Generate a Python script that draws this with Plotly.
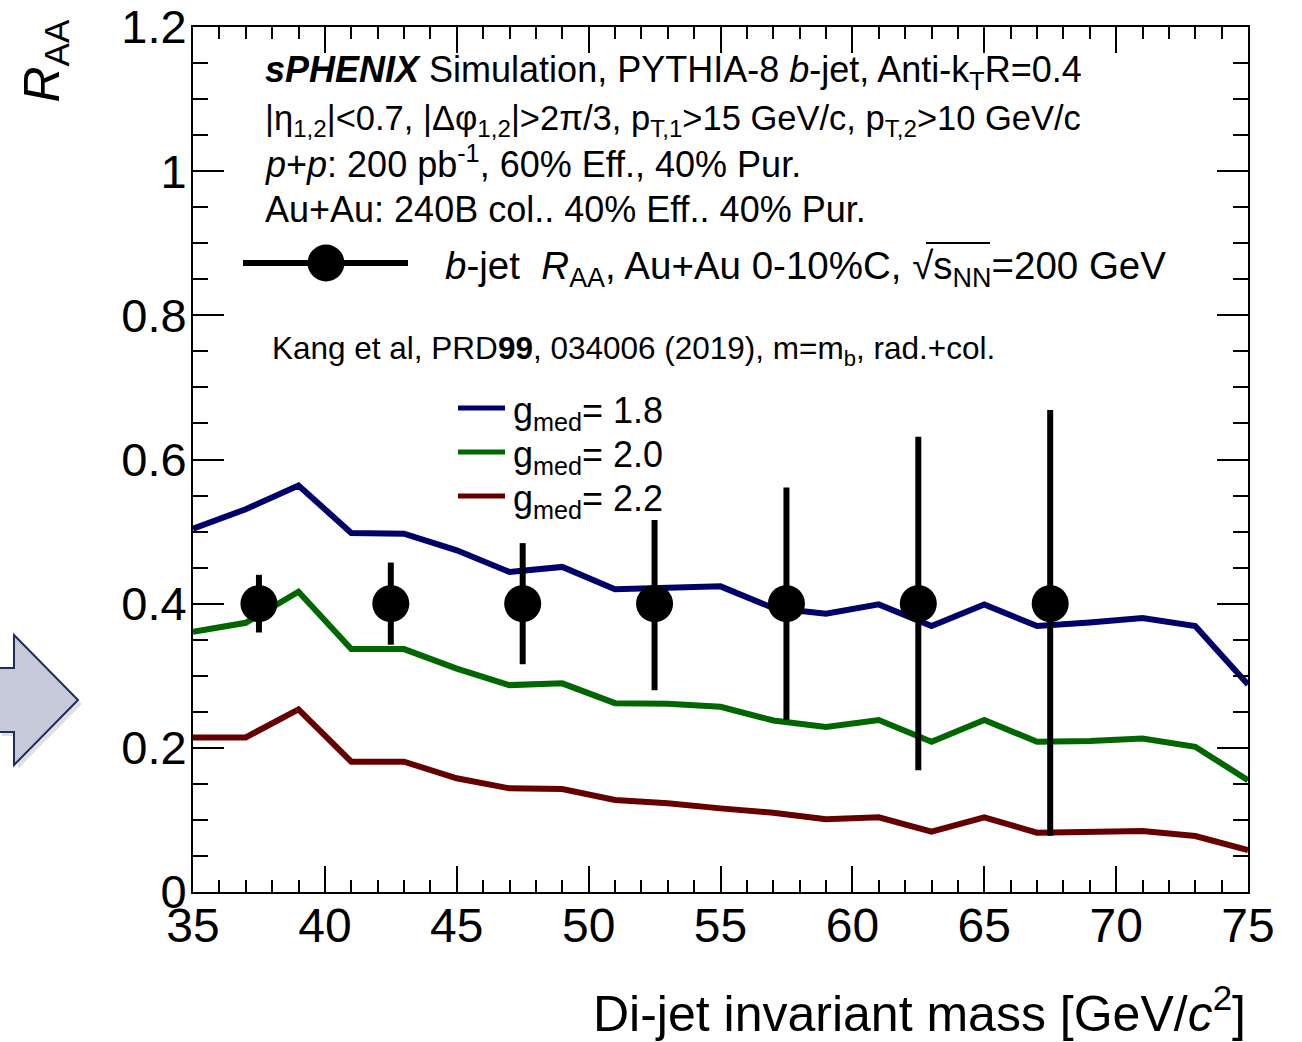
import plotly.graph_objects as go

# ---------------- data ----------------
mass_theory = [35, 37, 39, 41, 43, 45, 47, 49, 51, 53, 55, 57, 59, 61, 63, 65, 67, 69, 71, 73, 75]
raa_g18 = [0.504, 0.531, 0.564, 0.498, 0.497, 0.474, 0.444, 0.451, 0.420, 0.422, 0.424, 0.394,
           0.386, 0.399, 0.369, 0.399, 0.369, 0.374, 0.380, 0.369, 0.288]
raa_g20 = [0.361, 0.3735, 0.4165, 0.337, 0.337, 0.310, 0.287, 0.2895, 0.262, 0.261, 0.257, 0.238,
           0.229, 0.2385, 0.2085, 0.2385, 0.2085, 0.2095, 0.213, 0.2015, 0.155]
raa_g22 = [0.2145, 0.2145, 0.2534, 0.1807, 0.1807, 0.1577, 0.1438, 0.1429, 0.1276, 0.123, 0.116, 0.110,
           0.1008, 0.1036, 0.0836, 0.1036, 0.0823, 0.083, 0.0846, 0.0777, 0.058]

mass_data = [37.5, 42.5, 47.5, 52.5, 57.5, 62.5, 67.5]
raa_data = [0.4, 0.4, 0.4, 0.4, 0.4, 0.4, 0.4]
err_up = [0.040, 0.057, 0.084, 0.116, 0.161, 0.2315, 0.2685]
err_down = [0.040, 0.057, 0.084, 0.120, 0.161, 0.231, 0.322]

x_ticks = [35, 40, 45, 50, 55, 60, 65, 70, 75]
y_ticks = [0, 0.2, 0.4, 0.6, 0.8, 1.0, 1.2]
y_tick_labels = ["0", "0.2", "0.4", "0.6", "0.8", "1", "1.2"]

curve_labels = ["1.8", "2.0", "2.2"]
curve_colors = ["#00006b", "#006600", "#660000"]

# ---------------- layout helpers (pixel -> paper) ----------------
FIG_W, FIG_H = 1302, 1042
L, R, T, B = 193, 54, 27, 150
PW, PH = FIG_W - L - R, FIG_H - T - B


def px(x):
    return (x - L) / PW


def py(y):
    return (T + PH - y) / PH


FONT = "Liberation Sans"

fig = go.Figure()

for vals, col, lab in zip([raa_g18, raa_g20, raa_g22], curve_colors, curve_labels):
    fig.add_trace(go.Scatter(x=mass_theory, y=vals, mode="lines",
                             line=dict(color=col, width=6), name="g_med = " + lab,
                             showlegend=False))

fig.add_trace(go.Scatter(
    x=mass_data, y=raa_data, mode="markers",
    marker=dict(color="black", size=37),
    error_y=dict(type="data", symmetric=False, array=err_up, arrayminus=err_down,
                 color="black", thickness=6, width=0),
    showlegend=False, name="b-jet RAA"))

# arrow on the left (light-to-dark vertical shading approximated by stacked bands)
arrow_pts = [(-2, 668), (14, 668), (14, 635), (78, 700), (14, 765), (14, 732), (-2, 732)]
path = "M " + " L ".join(f"{px(a):.5f},{py(b):.5f}" for a, b in arrow_pts) + " Z"
shadow = "M " + " L ".join(f"{px(a + 4):.5f},{py(b + 4):.5f}" for a, b in arrow_pts) + " Z"
fig.add_shape(type="path", xref="paper", yref="paper", path=shadow,
              fillcolor="rgba(0,0,0,0.12)", line=dict(width=0), layer="below")
fig.add_shape(type="path", xref="paper", yref="paper", path=path,
              fillcolor="#c6cad8", line=dict(color="#1c2d5e", width=2))

# legend: data marker
fig.add_shape(type="line", xref="paper", yref="paper", x0=px(243), x1=px(408),
              y0=py(263), y1=py(263), line=dict(color="black", width=6))
fig.add_shape(type="circle", xref="paper", yref="paper", x0=px(326 - 18.5), x1=px(326 + 18.5),
              y0=py(263 + 18.5), y1=py(263 - 18.5), fillcolor="black", line=dict(width=0))

# legend: theory curves
for i, (col, lab) in enumerate(zip(curve_colors, curve_labels)):
    yy = 408 + 44 * i
    fig.add_shape(type="line", xref="paper", yref="paper", x0=px(458), x1=px(505),
                  y0=py(yy), y1=py(yy), line=dict(color=col, width=5))
    fig.add_annotation(text="g<sub>med</sub>= " + lab, x=px(511), y=py(yy + 5),
                       xref="paper", yref="paper",
                       xanchor="left", yanchor="middle", showarrow=False,
                       font=dict(size=36, color="black", family=FONT))

# overline for sqrt
fig.add_shape(type="line", xref="paper", yref="paper", x0=px(926), x1=px(990),
              y0=py(243), y1=py(243), line=dict(color="black", width=2))

text_lines = [
    ("<b><i>sPHENIX</i></b> Simulation, PYTHIA-8 <i>b</i>-jet, Anti-k<sub>T</sub>R=0.4", 263, 72, 36),
    ("|η<sub>1,2</sub>|&lt;0.7, |Δφ<sub>1,2</sub>|&gt;2π/3, p<sub>T,1</sub>&gt;15 GeV/c, p<sub>T,2</sub>&gt;10 GeV/c", 263, 121, 34.5),
    ("<i>p</i>+<i>p</i>: 200 pb<sup>-1</sup>, 60% Eff., 40% Pur.", 263, 162, 36),
    ("Au+Au: 240B col.. 40% Eff.. 40% Pur.", 263, 210, 36),
    ("<i>b</i>-jet  <i>R</i><sub>AA</sub>, Au+Au 0-10%C, √s<sub>NN</sub>=200 GeV", 443, 268, 38.5),
    ("Kang et al, PRD<b>99</b>, 034006 (2019), m=m<sub>b</sub>, rad.+col.", 270, 350, 31.5),
]
for txt, x, y, fs in text_lines:
    fig.add_annotation(text=txt, x=px(x), y=py(y), xref="paper", yref="paper",
                       xanchor="left", yanchor="middle",
                       showarrow=False, font=dict(size=fs, color="black", family=FONT))

# axis titles
fig.add_annotation(text="Di-jet invariant mass [GeV/<i>c</i><sup>2</sup>]", x=1.0, y=py(1010),
                   xref="paper", yref="paper",
                   xanchor="right", yanchor="middle", showarrow=False,
                   font=dict(size=50, color="black", family=FONT))
fig.add_annotation(text="<i>R</i><sub>AA</sub>", x=px(45), y=py(18), textangle=-90,
                   xref="paper", yref="paper",
                   xanchor="center", yanchor="top", showarrow=False,
                   font=dict(size=50, color="black", family=FONT))

fig.update_layout(
    width=FIG_W, height=FIG_H,
    margin=dict(l=L, r=R, t=T, b=B),
    paper_bgcolor="white", plot_bgcolor="white",
    showlegend=False,
    font=dict(family=FONT, color="black"),
)

fig.update_xaxes(range=[35, 75], tickmode="array", tickvals=x_ticks,
                 ticktext=[str(v) for v in x_ticks], automargin=False,
                 ticks="inside", ticklen=26, tickwidth=2, tickcolor="black",
                 showline=True, linecolor="black", linewidth=2, mirror="ticks",
                 showgrid=False, zeroline=False, ticklabelstandoff=-10,
                 tickfont=dict(size=48, family=FONT, color="black"),
                 minor=dict(dtick=1, tick0=35, ticks="inside", ticklen=12, tickwidth=2,
                            tickcolor="black", showgrid=False))
fig.update_yaxes(range=[0, 1.2], tickmode="array", tickvals=y_ticks, ticktext=y_tick_labels,
                 automargin=False,
                 ticks="inside", ticklen=31, tickwidth=2, tickcolor="black",
                 showline=True, linecolor="black", linewidth=2, mirror="ticks",
                 showgrid=False, zeroline=False, ticklabelstandoff=-5,
                 tickfont=dict(size=47, family=FONT, color="black"),
                 minor=dict(dtick=0.05, tick0=0, ticks="inside", ticklen=15, tickwidth=2,
                            tickcolor="black", showgrid=False))

fig.write_html("out.html")
